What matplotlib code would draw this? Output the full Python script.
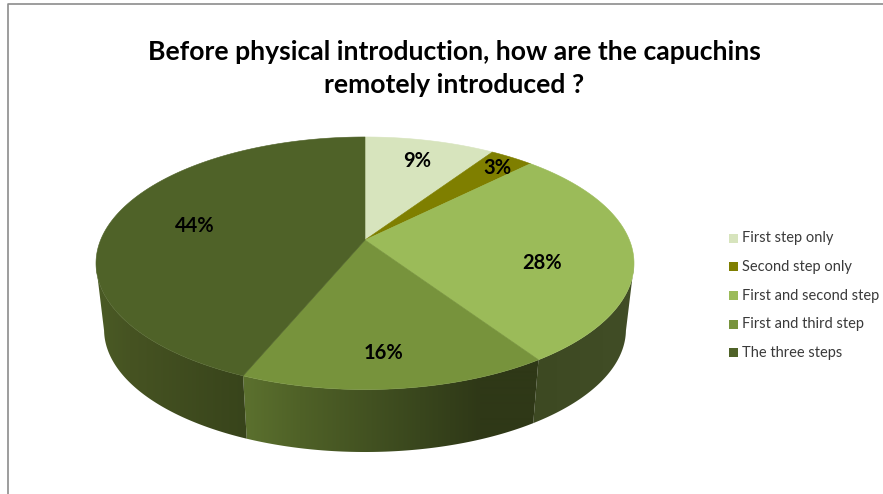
import numpy as np
import matplotlib
matplotlib.use("Agg")
import matplotlib.pyplot as plt
from matplotlib.patches import Polygon, Rectangle

plt.rcParams["font.family"] = ["Lato", "DejaVu Sans"]

# data
categories = ["First step only", "Second step only", "First and second step",
              "First and third step", "The three steps"]
counts = [3, 1, 9, 5, 14]  # out of 32, gives the 9/3/28/16/44 labels
title_lines = ["Before physical introduction, how are the capuchins",
               "remotely introduced ?"]

# styles
top_colors = ["#d7e4bd", "#7f7f00", "#9bbb59", "#77933c", "#4f6228"]
side_stops = [
    ([0, 1], ["#d7e4bd", "#d7e4bd"]),
    ([0, 1], ["#7f7f00", "#7f7f00"]),
    ([534, 625], ["#3d4922", "#414d26"]),
    ([246, 300, 420, 480, 534], ["#5b702e", "#4f6127", "#39461d", "#2f3817", "#2f3817"]),
    ([100, 130, 245], ["#4a5a25", "#465322", "#38441b"]),
]
label_pos = [(417, 161), (497, 168), (542, 263), (384, 353), (195, 226)]
legend_y = [238, 266.5, 295.5, 324, 352.5]

# pie geometry, in pixels
cx, cy = 365, 240
rx, ry, k = 264.4, 122, 0.1842
ell_cy = 263.25
low_cy, low_scale = 329.5, 0.97
back_limit = -0.19  # side wall only shows in front of this


def project(theta):
    # theta clockwise from 12 o'clock, perspective on the disc
    u, v = np.sin(theta), np.cos(theta)
    w = 1 + k * v
    return cx + rx * u / w, cy - ry * v / w


def project_low(theta):
    x, y = project(theta)
    return cx + (x - cx) * low_scale, low_cy + (y - ell_cy) * low_scale


def hex_rgb(c):
    return [int(c[i:i + 2], 16) / 255 for i in (1, 3, 5)]


fig = plt.figure(figsize=(8.83, 4.94), dpi=100)
ax = fig.add_axes([0, 0, 1, 1])
ax.axis("off")

# frame of the screenshot
ax.plot([7.5, 7.5, 883], [494, 4.5, 4.5], color="#8c8c8c", lw=1.2, zorder=1)

shares = np.array(counts) / sum(counts)
edges = np.concatenate([[0], np.cumsum(shares)]) * 2 * np.pi

# side walls: horizontal gradient image clipped to the wall outline
xs = np.arange(0, 883)
for i in range(len(counts)):
    th = np.linspace(edges[i], edges[i + 1], 300)
    th = th[np.cos(th) < back_limit]
    if len(th) < 2:
        continue
    x1, y1 = project(th)
    x2, y2 = project_low(th)
    outline = np.column_stack([np.r_[x1, x2[::-1]], np.r_[y1, y2[::-1]]])
    stops_x, stops_c = side_stops[i]
    rgb = np.array([hex_rgb(c) for c in stops_c])
    grad = np.stack([np.interp(xs, stops_x, rgb[:, n]) for n in range(3)], axis=-1)
    im = ax.imshow(grad[np.newaxis, :, :], extent=(0, 883, 494, 0), aspect="auto",
                   interpolation="bilinear", zorder=2)
    clip = Polygon(outline, closed=True, transform=ax.transData)
    im.set_clip_path(clip)

ax.set_xlim(0, 883)
ax.set_ylim(494, 0)

# top face
for i in range(len(counts)):
    th = np.linspace(edges[i], edges[i + 1], 200)
    x, y = project(th)
    pts = np.column_stack([np.r_[cx, x], np.r_[cy, y]])
    ax.add_patch(Polygon(pts, closed=True, facecolor=top_colors[i],
                         edgecolor=top_colors[i], lw=0.4, zorder=3))

# percent labels
for i in range(len(counts)):
    ax.text(label_pos[i][0], label_pos[i][1], f"{shares[i] * 100:.0f}%",
            fontsize=14.5, fontweight="bold", color="black",
            ha="center", va="center", zorder=4)

# title
ax.text(454, 52, title_lines[0], fontsize=19.1, fontweight="bold",
        ha="center", va="center", color="black")
ax.text(454, 85, title_lines[1], fontsize=19.1, fontweight="bold",
        ha="center", va="center", color="black")

# legend
for i, name in enumerate(categories):
    ax.add_patch(Rectangle((729, legend_y[i] - 4.5), 9, 9, facecolor=top_colors[i],
                           edgecolor="none", zorder=3))
    ax.text(742, legend_y[i], name, fontsize=10.5, color="#3a3a3a",
            ha="left", va="center")

fig.savefig("out.png", dpi=100)
